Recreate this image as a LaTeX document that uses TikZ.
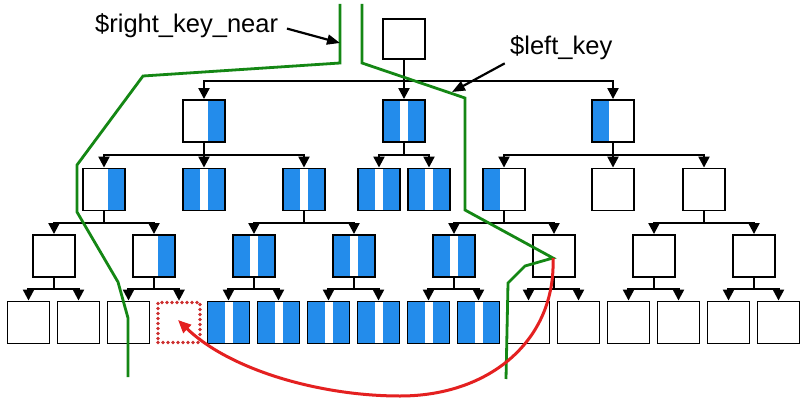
\documentclass[tikz,border=0pt]{standalone}
\usepackage{fontspec}
\setmainfont{Liberation Sans}
\usetikzlibrary{arrows.meta}
\definecolor{kblue}{RGB}{35,140,235}
\definecolor{kgreen}{RGB}{20,135,20}
\definecolor{kred}{RGB}{228,32,32}
\definecolor{kdot}{RGB}{205,45,45}
\tikzset{
  box/.style={draw=black, line width=1.9pt, minimum width=42pt, minimum height=42pt, inner sep=0pt, fill=white},
  blueR/.style={box, path picture={\fill[kblue] ([xshift=-17pt]path picture bounding box.north east) rectangle (path picture bounding box.south east);}},
  blueL/.style={box, path picture={\fill[kblue] (path picture bounding box.north west) rectangle ([xshift=17pt]path picture bounding box.south west);}},
  blueB/.style={box, path picture={\fill[kblue] (path picture bounding box.north west) rectangle ([xshift=17pt]path picture bounding box.south west);
     \fill[kblue] ([xshift=-17pt]path picture bounding box.north east) rectangle (path picture bounding box.south east);}},
  dotbox/.style={draw=kdot, line width=3.6pt, dash pattern=on 0pt off 5pt, line cap=round, minimum width=42pt, minimum height=40pt, inner sep=0pt},
  conn/.style={draw=black, line width=2.2pt, -{Triangle[width=11pt,length=11pt]}},
  larr/.style={draw=black, line width=2.2pt, -{Triangle[width=10pt,length=13pt]}},
  gline/.style={draw=kgreen, line width=2.8pt, line join=miter},
  rline/.style={draw=kred, line width=3pt, -{Triangle[width=11pt,length=13pt]}},
  lbl/.style={inner sep=0pt, font=\fontsize{25.5}{30}\selectfont}
}
\newcommand\kids[3]{\foreach \kid in {#3} {\draw[conn] (#1.south) -- (#1.south |- #2) -| (\kid.north);}}
\begin{document}
\begin{tikzpicture}[x=1pt,y=-1pt]
\useasboundingbox (0,0) rectangle (808,404);
\fill[white] (0,0) rectangle (808,404);
\coordinate (y0) at (0,81);
\coordinate (y1) at (0,155);
\coordinate (y2) at (0,223);
\coordinate (y3) at (0,289);
% root
\node[box, minimum height=40pt] (r) at (404,39) {};
% level 1
\node[blueR] (a1) at (204,121) {};
\node[blueB] (a2) at (404,121) {};
\node[blueL] (a3) at (613,121) {};
% level 2
\node[blueR] (b1) at (104,189.5) {};
\node[blueB] (b2) at (204,189.5) {};
\node[blueB] (b3) at (304,189.5) {};
\node[blueB] (b4) at (379,189.5) {};
\node[blueB] (b5) at (429,189.5) {};
\node[blueL] (b6) at (504,189.5) {};
\node[box]   (b7) at (613,189.5) {};
\node[box]   (b8) at (704,189.5) {};
% level 3
\node[box]   (c1) at (54,256) {};
\node[blueR] (c2) at (154,256) {};
\node[blueB] (c3) at (254,256) {};
\node[blueB] (c4) at (354,256) {};
\node[blueB] (c5) at (454,256) {};
\node[box]   (c6) at (554,256) {};
\node[box]   (c7) at (654,256) {};
\node[box]   (c8) at (754,256) {};
% level 4
\node[box]    (d1)  at (28.5,322.5) {};
\node[box]    (d2)  at (78.5,322.5) {};
\node[box]    (d3)  at (128.5,322.5) {};
\node[dotbox] (d4)  at (179,322.5) {};
\node[blueB]  (d5)  at (228.5,322.5) {};
\node[blueB]  (d6)  at (278.5,322.5) {};
\node[blueB]  (d7)  at (328.5,322.5) {};
\node[blueB]  (d8)  at (378.5,322.5) {};
\node[blueB]  (d9)  at (428.5,322.5) {};
\node[blueB]  (d10) at (478.5,322.5) {};
\node[box]    (d11) at (528.5,322.5) {};
\node[box]    (d12) at (578.5,322.5) {};
\node[box]    (d13) at (628.5,322.5) {};
\node[box]    (d14) at (678.5,322.5) {};
\node[box]    (d15) at (728.5,322.5) {};
\node[box]    (d16) at (778.5,322.5) {};
% connectors
\kids{r}{y0}{a1,a2,a3}
\kids{a1}{y1}{b1,b2,b3}
\kids{a2}{y1}{b4,b5}
\kids{a3}{y1}{b6,b7,b8}
\kids{b1}{y2}{c1,c2}
\kids{b3}{y2}{c3,c4}
\kids{b6}{y2}{c5,c6}
\kids{b8}{y2}{c7,c8}
\kids{c1}{y3}{d1,d2}
\kids{c2}{y3}{d3,d4}
\kids{c3}{y3}{d5,d6}
\kids{c4}{y3}{d7,d8}
\kids{c5}{y3}{d9,d10}
\kids{c6}{y3}{d11,d12}
\kids{c7}{y3}{d13,d14}
\kids{c8}{y3}{d15,d16}
% green boundary lines
\draw[gline] (340,4) -- (340,63) -- (143,76) -- (77,165) -- (77,212) -- (118,282) -- (128,318) -- (128,377);
\draw[gline] (362,4) -- (362,63) -- (465,98) -- (465,210) -- (553,258) -- (525,266) -- (508,283) -- (506,379);
% red arrow
\coordinate (rs) at (553,258);
\coordinate (rm) at (400,396);
\coordinate (re) at (178,320);
\draw[rline] (rs) .. controls (556,340) and (490,396) .. (rm) .. controls (320,396) and (230,370) .. (re);
% labels
\node[lbl, anchor=base west] (rkn) at (95,33) {\$right\_key\_near};
\coordinate (rknT) at (340,43);
\draw[larr, shorten <=9pt] (rkn.east) -- (rknT);
\node[lbl, anchor=base west] (lk) at (510,55) {\$left\_key};
\coordinate (lkT) at (452,92);
\draw[larr, shorten <=6pt] (lk.south west) -- (lkT);
\end{tikzpicture}
\end{document}
